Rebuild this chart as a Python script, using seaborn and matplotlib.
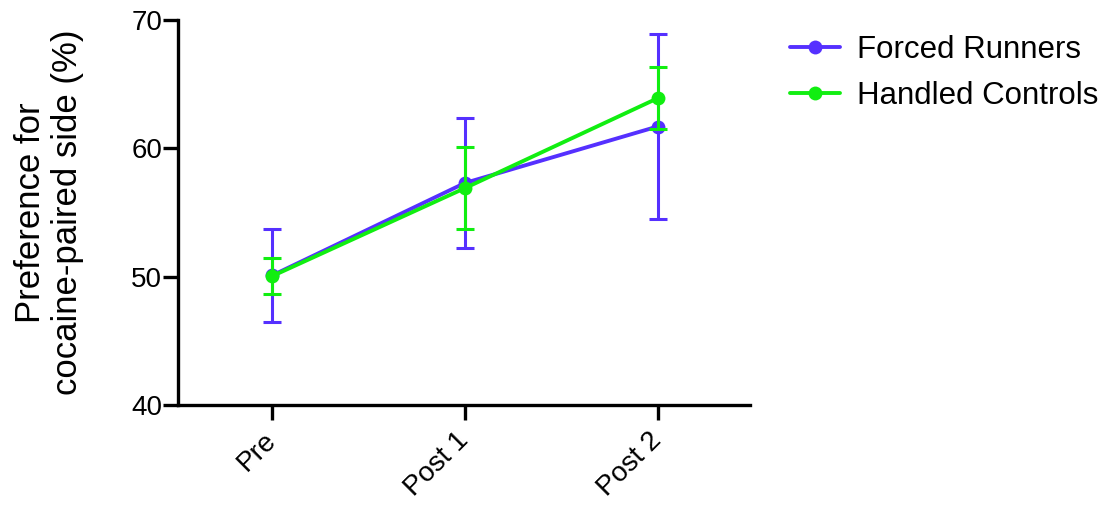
import pandas as pd
import matplotlib
matplotlib.use("Agg")
import matplotlib.pyplot as plt
import seaborn as sns

sns.set_style("ticks")
plt.rcParams['font.family'] = ['Liberation Sans', 'DejaVu Sans']
plt.rcParams['text.color'] = 'black'
plt.rcParams['axes.labelcolor'] = 'black'
plt.rcParams['xtick.color'] = 'black'
plt.rcParams['ytick.color'] = 'black'

# values
timepoints = ["Pre", "Post 1", "Post 2"]
groups = ["Forced Runners", "Handled Controls"]
runners_mean = [50.1, 57.3, 61.7]
runners_err = [3.6, 5.1, 7.2]
controls_mean = [50.05, 56.9, 63.9]
controls_err = [1.4, 3.2, 2.4]
colors = {"Forced Runners": "#5530ff", "Handled Controls": "#11ee11"}

means = {"Forced Runners": runners_mean, "Handled Controls": controls_mean}
errs = {"Forced Runners": runners_err, "Handled Controls": controls_err}

df = pd.DataFrame({
    "time": timepoints * 2,
    "pref": runners_mean + controls_mean,
    "group": [groups[0]] * 3 + [groups[1]] * 3,
})

fig = plt.figure(figsize=(11.16, 5.08), dpi=100)
ax = fig.add_axes([0.1595, 0.2028, 0.5125, 0.7578])

for i, g in enumerate(groups):
    ax.errorbar(timepoints, means[g], yerr=errs[g], fmt='none', ecolor=colors[g],
                elinewidth=2.2, capsize=6.5, capthick=2.2, zorder=2 + 2 * i)
    sns.lineplot(data=df[df["group"] == g], x="time", y="pref", color=colors[g],
                 marker='o', markersize=10, markeredgewidth=0, linewidth=2.8,
                 label=g, ax=ax, zorder=3 + 2 * i, sort=False)

ax.set_ylim(40, 70)
ax.set_yticks([40, 50, 60, 70])
ax.set_xlim(-0.49, 2.48)
ax.set_xlabel("")
ax.set_ylabel("Preference for\ncocaine-paired side (%)", fontsize=25, labelpad=34,
              linespacing=1.15)
ax.tick_params(axis='both', labelsize=20, width=2.4, length=10.5, color='black')
ax.tick_params(axis='y', pad=1)
ax.tick_params(axis='x', pad=12)
plt.setp(ax.get_xticklabels(), rotation=45, ha='right', va='center',
         rotation_mode='anchor')
for side in ['top', 'right']:
    ax.spines[side].set_visible(False)
for side in ['left', 'bottom']:
    ax.spines[side].set_linewidth(2.4)
    ax.spines[side].set_color('black')

ax.legend(loc='upper left', bbox_to_anchor=(1.07, 0.962), frameon=False,
          fontsize=22.5, handlelength=1.6, handletextpad=0.55, labelspacing=0.52,
          borderpad=0, borderaxespad=0)

fig.savefig("out.png", dpi=100)
